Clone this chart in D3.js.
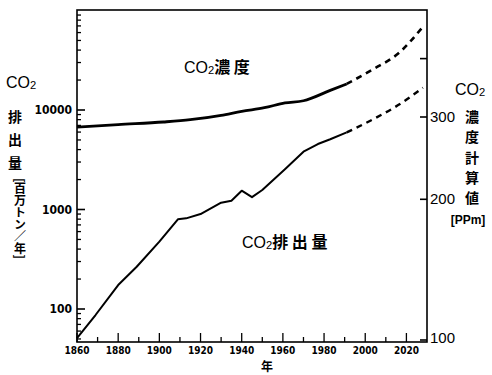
<!DOCTYPE html>
<html>
<head>
<meta charset="utf-8">
<script src="https://cdn.jsdelivr.net/npm/d3@7"></script>
<style>
  body { margin: 0; background: #fff; }
  svg { display: block; }
  .lab { font-family: "Liberation Sans", Arial, sans-serif; fill: #000; }
  .jp { font-family: "Noto Sans CJK JP", sans-serif; font-weight: bold; fill: #000; }
  .narrow { font-family: "Liberation Sans Narrow", "DejaVu Sans Condensed", sans-serif; font-weight: bold; fill: #000; }
</style>
</head>
<body>
<div id="chart"></div>
<script>
// CO2 emission (million t / year), historical
var emYears = [1860, 1869, 1880, 1889, 1900, 1909, 1913, 1920, 1930, 1935, 1940, 1945, 1950, 1961, 1970, 1977, 1983, 1991];
var emission = [51, 87, 174, 266, 475, 797, 815, 900, 1170, 1225, 1545, 1330, 1570, 2535, 3810, 4550, 5080, 5950];
// CO2 concentration (ppm), historical
var concYears = [1860, 1880, 1902, 1915, 1930, 1940, 1951, 1961, 1970, 1983, 1991];
var concentration = [285.4, 289, 292.7, 296, 302.5, 308.5, 314, 321.5, 325, 342, 353];
// projections (dashed)
var projYears = [1991, 2004, 2016, 2028];
var emissionProj = [5950, 8100, 11200, 16700];
var concProj = [353, 380, 410, 468];

var xTicks = [1860, 1880, 1900, 1920, 1940, 1960, 1980, 2000, 2020];
var xMinor = [1870, 1890, 1910, 1930, 1950, 1970, 1990, 2010];
var leftTicks = [100, 1000, 10000];
var rightTicks = [100, 200, 300, 400];
var rightLabels = [100, 200, 300];

var width = 492, height = 375;
var pLeft = 77, pRight = 427, pTop = 10, pBottom = 342;

var svg = d3.select('#chart').append('svg')
  .attr('width', width)
  .attr('height', height);

var x = d3.scaleLinear().domain([1860, 2030]).range([pLeft, pRight]);
var yL = d3.scaleLog().domain([100, 10000]).range([309, 110]);
var yR = d3.scaleLog().domain([100, 300]).range([340, 117]);

// frame
svg.append('rect')
  .attr('x', pLeft).attr('y', pTop)
  .attr('width', pRight - pLeft).attr('height', pBottom - pTop)
  .attr('fill', 'none').attr('stroke', '#000').attr('stroke-width', 1.6);

// left log axis, ticks inward
var minor = [];
[10, 100, 1000, 10000].forEach(function(d) {
  for (var k = 2; k <= 9; k++) minor.push(d * k);
});
minor = minor.filter(function(v) { return yL(v) > pTop + 2 && yL(v) < pBottom - 2; });
svg.append('g').selectAll('line').data(minor).enter().append('line')
  .attr('x1', pLeft).attr('x2', pLeft + 4)
  .attr('y1', function(d) { return yL(d); }).attr('y2', function(d) { return yL(d); })
  .attr('stroke', '#000').attr('stroke-width', 1.3);
svg.append('g').selectAll('line').data(leftTicks).enter().append('line')
  .attr('x1', pLeft).attr('x2', pLeft + 8)
  .attr('y1', function(d) { return yL(d); }).attr('y2', function(d) { return yL(d); })
  .attr('stroke', '#000').attr('stroke-width', 1.6);
svg.append('g').selectAll('text').data(leftTicks).enter().append('text')
  .attr('class', 'narrow')
  .attr('x', pLeft - 5).attr('y', function(d) { return yL(d) + 4; })
  .attr('text-anchor', 'end').attr('font-size', 12)
  .text(function(d) { return d; });

// right log axis, ticks inward
svg.append('g').selectAll('line').data(rightTicks).enter().append('line')
  .attr('x1', pRight - 7).attr('x2', pRight)
  .attr('y1', function(d) { return yR(d); }).attr('y2', function(d) { return yR(d); })
  .attr('stroke', '#000').attr('stroke-width', 1.6);
svg.append('g').selectAll('text').data(rightLabels).enter().append('text')
  .attr('class', 'lab')
  .attr('x', pRight + 3).attr('y', function(d) { return d === 100 ? yR(d) + 3 : yR(d) + 5; })
  .attr('font-size', 15)
  .text(function(d) { return d; });

// x axis
svg.append('g').selectAll('line').data(xTicks).enter().append('line')
  .attr('x1', function(d) { return x(d); }).attr('x2', function(d) { return x(d); })
  .attr('y1', pBottom).attr('y2', pBottom - 9)
  .attr('stroke', '#000').attr('stroke-width', 1.3);
svg.append('g').selectAll('line').data(xMinor).enter().append('line')
  .attr('x1', function(d) { return x(d); }).attr('x2', function(d) { return x(d); })
  .attr('y1', pBottom).attr('y2', pBottom - 5)
  .attr('stroke', '#000').attr('stroke-width', 1.3);
svg.append('g').selectAll('text').data(xTicks).enter().append('text')
  .attr('class', 'narrow')
  .attr('x', function(d) { return x(d); }).attr('y', pBottom + 12)
  .attr('text-anchor', 'middle').attr('font-size', 10)
  .text(function(d) { return d; });

svg.append('text').attr('class', 'jp')
  .attr('x', 267).attr('y', 371).attr('text-anchor', 'middle').attr('font-size', 12)
  .text('年');

// lines
var lineL = d3.line().x(function(d) { return x(d[0]); }).y(function(d) { return yL(d[1]); });
var lineR = d3.line().x(function(d) { return x(d[0]); }).y(function(d) { return yR(d[1]); });

svg.append('path')
  .datum(d3.zip(emYears, emission))
  .attr('d', lineL).attr('fill', 'none').attr('stroke', '#000').attr('stroke-width', 2)
  .attr('stroke-linejoin', 'round');
svg.append('path')
  .datum(d3.zip(projYears, emissionProj))
  .attr('d', lineL.curve(d3.curveMonotoneX)).attr('fill', 'none').attr('stroke', '#000')
  .attr('stroke-width', 2.4).attr('stroke-dasharray', '6,5');

svg.append('path')
  .datum(d3.zip(concYears, concentration))
  .attr('d', lineR.curve(d3.curveMonotoneX)).attr('fill', 'none').attr('stroke', '#000')
  .attr('stroke-width', 2.8).attr('stroke-linejoin', 'round');
svg.append('path')
  .datum(d3.zip(projYears, concProj))
  .attr('d', lineR).attr('fill', 'none').attr('stroke', '#000')
  .attr('stroke-width', 2.6).attr('stroke-dasharray', '6,5');

// inner labels
function co2(gx, gy, rest, size) {
  var t = svg.append('text').attr('class', 'jp').attr('x', gx).attr('y', gy)
    .attr('font-size', size).style('font-weight', 'normal');
  t.append('tspan').attr('class', 'lab').text('CO');
  t.append('tspan').attr('class', 'lab').attr('font-size', size * 0.7).attr('dy', 1).text('2');
  if (rest) t.append('tspan').attr('dy', -1).style('font-weight', 'bold').text(rest);
  return t;
}
co2(184, 73, '濃 度', 16);
co2(242, 248, '排 出 量', 16);

// left axis title
co2(6, 88, null, 16);
['排', '出', '量'].forEach(function(c, i) {
  svg.append('text').attr('class', 'jp').attr('x', 15).attr('y', 122 + i * 23)
    .attr('text-anchor', 'middle').attr('font-size', 14).text(c);
});
svg.append('text').attr('class', 'jp')
  .attr('x', 20).attr('y', 178)
  .attr('font-size', 12)
  .style('writing-mode', 'vertical-rl')
  .text('[百万トン／年]');

// right axis title
co2(455, 95, null, 16);
['濃', '度', '計', '算', '値'].forEach(function(c, i) {
  svg.append('text').attr('class', 'jp').attr('x', 472).attr('y', 122 + i * 20.3)
    .attr('text-anchor', 'middle').attr('font-size', 14).text(c);
});
svg.append('text').attr('class', 'lab')
  .attr('x', 468).attr('y', 224).attr('text-anchor', 'middle')
  .attr('font-size', 12).style('font-weight', 'bold')
  .text('[PPm]');
</script>
</body>
</html>
